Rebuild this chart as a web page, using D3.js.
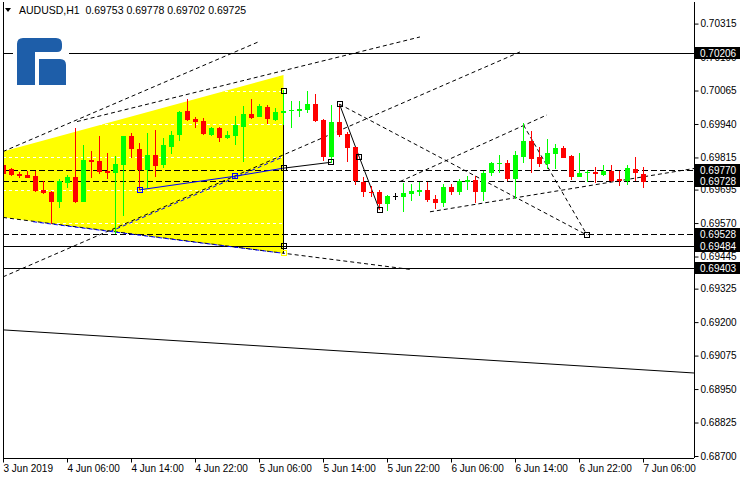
<!DOCTYPE html>
<html><head><meta charset="utf-8">
<script src="https://cdn.jsdelivr.net/npm/d3@7"></script>
<style>
body{margin:0;background:#fff;}
svg{display:block;font-family:"Liberation Sans",Arial,sans-serif;}
</style>
</head><body>
<svg id="chart" width="740" height="480"></svg>
<script>
// ---------------- DATA ----------------
const symbol = "AUDUSD,H1";
const lastOHLC = [0.69753, 0.69778, 0.69702, 0.69725];
const open  = [0.69787,0.69772,0.69754,0.69750,0.69746,0.69694,0.69686,0.69650,0.69721,0.69742,
               0.69650,0.69806,0.69802,0.69764,0.69758,0.69788,0.69895,0.69847,0.69768,0.69824,
               0.69787,0.69855,0.69899,0.69989,0.69959,0.69951,0.69899,0.69926,0.69889,0.69895,
               0.69930,0.69977,0.69967,0.70002,0.69955,0.69980,0.69987,0.69990,0.69992,0.70015,
               0.69955,0.69818,0.69946,0.69902,0.69853,0.69724,0.69687,0.69685,0.69641,0.69671,
               0.69666,0.69679,0.69687,0.69694,0.69660,0.69646,0.69705,0.69687,0.69724,0.69731,
               0.69687,0.69756,0.69790,0.69793,0.69735,0.69818,0.69877,0.69816,0.69791,0.69828,
               0.69851,0.69820,0.69743,0.69756,0.69762,0.69750,0.69764,0.69735,0.69727,0.69771,
               0.69753];
const high  = [0.69817,0.69777,0.69760,0.69764,0.69764,0.69726,0.69690,0.69734,0.69750,0.69924,
               0.69862,0.69839,0.69895,0.69831,0.69820,0.69895,0.69908,0.69868,0.69905,0.69918,
               0.69887,0.69914,0.69989,0.70033,0.69967,0.69961,0.69928,0.69930,0.69914,0.69970,
               0.70008,0.70033,0.70014,0.70011,0.69999,0.70067,0.70026,0.70026,0.70063,0.70052,
               0.69957,0.70011,0.70011,0.69911,0.69853,0.69741,0.69710,0.69692,0.69675,0.69683,
               0.69718,0.69716,0.69724,0.69724,0.69675,0.69716,0.69716,0.69734,0.69746,0.69746,
               0.69764,0.69797,0.69824,0.69806,0.69840,0.69943,0.69914,0.69855,0.69884,0.69864,
               0.69858,0.69824,0.69831,0.69768,0.69781,0.69787,0.69787,0.69764,0.69787,0.69818,
               0.69778];
const low   = [0.69750,0.69746,0.69739,0.69738,0.69686,0.69677,0.69567,0.69627,0.69700,0.69644,
               0.69649,0.69739,0.69754,0.69734,0.69528,0.69596,0.69812,0.69694,0.69700,0.69743,
               0.69775,0.69828,0.69878,0.69951,0.69926,0.69899,0.69895,0.69874,0.69883,0.69862,
               0.69797,0.69959,0.69965,0.69939,0.69951,0.69936,0.69926,0.69967,0.69982,0.69949,
               0.69803,0.69793,0.69893,0.69797,0.69712,0.69668,0.69668,0.69619,0.69616,0.69656,
               0.69612,0.69654,0.69671,0.69650,0.69624,0.69631,0.69675,0.69675,0.69694,0.69646,
               0.69654,0.69747,0.69756,0.69727,0.69659,0.69793,0.69758,0.69781,0.69772,0.69772,
               0.69812,0.69731,0.69741,0.69724,0.69721,0.69746,0.69724,0.69708,0.69712,0.69727,
               0.69702];
const close = [0.69753,0.69750,0.69746,0.69739,0.69690,0.69683,0.69650,0.69726,0.69742,0.69648,
               0.69806,0.69798,0.69762,0.69758,0.69791,0.69895,0.69846,0.69768,0.69824,0.69783,
               0.69862,0.69899,0.69986,0.69955,0.69949,0.69902,0.69926,0.69889,0.69899,0.69936,
               0.69977,0.69964,0.70007,0.69958,0.69984,0.69990,0.69992,0.69996,0.70015,0.69952,
               0.69818,0.69946,0.69899,0.69851,0.69727,0.69685,0.69683,0.69640,0.69671,0.69671,
               0.69681,0.69690,0.69694,0.69656,0.69646,0.69706,0.69687,0.69727,0.69731,0.69687,
               0.69758,0.69796,0.69796,0.69735,0.69824,0.69877,0.69809,0.69791,0.69831,0.69851,
               0.69814,0.69743,0.69758,0.69762,0.69752,0.69764,0.69727,0.69727,0.69777,0.69756,
               0.69725];
const priceTicks = [0.70315,0.70190,0.70065,0.69940,0.69815,0.69695,0.69570,0.69445,0.69325,
                    0.69200,0.69075,0.68950,0.68825,0.68700];
const timeTickBars   = [0,8,16,24,32,40,48,56,64,72,80];
const timeTickLabels = ["3 Jun 2019","4 Jun 06:00","4 Jun 14:00","4 Jun 22:00","5 Jun 06:00",
                        "5 Jun 14:00","5 Jun 22:00","6 Jun 06:00","6 Jun 14:00","6 Jun 22:00","7 Jun 06:00"];
const solidLevels  = [0.70206, 0.69484, 0.69403];
const dashedLevels = [0.69770, 0.69728, 0.69528];
// drawn objects: [barIndex, price] pairs
const yellowTriangle = [[-20.56,0.69670],[35,0.70123],[35,0.69457]];
const dashedBlack = [
  [[-0.06,0.69837],[31.81,0.70246]],
  [[-0.06,0.69369],[64.56,0.70209]],
  [[9.19,0.69949],[52.06,0.70265]],
  [[-0.06,0.69591],[50.81,0.69397]],
  [[42,0.70014],[72.94,0.69525]],
  [[65,0.69936],[72.94,0.69525]],
  [[49.56,0.69725],[67.94,0.69974]],
  [[53.31,0.69612],[86.56,0.69775]]
];
const dashedBlue = [
  [[13.31,0.69538],[35,0.69818]],
  [[3.69,0.69575],[35,0.69457]]
];
const solidBlue = [[17,0.69694],[28.94,0.69745],[35,0.69775]];
const solidBlack = [
  [[35,0.69775],[40.94,0.69797]],
  [[35,0.70063],[35,0.69457]],
  [[42,0.70014],[44.48,0.69816],[47,0.69619]],
  [[-0.06,0.69171],[86.31,0.69010]]
];
const blackSquares = [[35,0.70063],[35,0.69775],[35,0.69484],[40.94,0.69797],[42,0.70014],[44.48,0.69816],[47,0.69619],[72.94,0.69525]];
const blueSquares = [[17,0.69694],[28.94,0.69745]];
const yellowSquares = [[35,0.69457]];

// ---------------- LAYOUT ----------------
const W = 740, H = 480;
const plot = {left:3, right:694, top:2, bottom:458};
const svg = d3.select("#chart");
const bars = d3.range(open.length);
const x = d3.scaleLinear().domain([0, 80]).range([3.5, 643.5]);
const y = d3.scaleLinear().domain([0.687, 0.70315]).range([456, 23.58]);

svg.append("rect").attr("width",W).attr("height",H).attr("fill","#fff");
svg.append("defs").append("clipPath").attr("id","clip")
  .append("rect").attr("x",plot.left).attr("y",plot.top)
  .attr("width",plot.right-plot.left).attr("height",plot.bottom-plot.top);

const g = svg.append("g").attr("clip-path","url(#clip)");
const line = d3.line().x(d=>x(d[0])).y(d=>y(d[1]));

// yellow triangle
g.append("path").attr("d", line(yellowTriangle)+"Z").attr("fill","#ffff00");

// white grid
g.selectAll(".grid").data(priceTicks).join("line")
  .attr("x1",plot.left).attr("x2",plot.right)
  .attr("y1",d=>Math.round(y(d))+0.5).attr("y2",d=>Math.round(y(d))+0.5)
  .attr("stroke","#fff").attr("stroke-dasharray","3,3").attr("shape-rendering","crispEdges");

// level lines
g.selectAll(".sl").data(solidLevels).join("line")
  .attr("x1",plot.left).attr("x2",plot.right)
  .attr("y1",d=>Math.round(y(d))+0.5).attr("y2",d=>Math.round(y(d))+0.5)
  .attr("stroke","#000").attr("shape-rendering","crispEdges");
g.selectAll(".dl").data(dashedLevels).join("line")
  .attr("x1",plot.left).attr("x2",plot.right)
  .attr("y1",d=>Math.round(y(d))+0.5).attr("y2",d=>Math.round(y(d))+0.5)
  .attr("stroke","#000").attr("stroke-dasharray","6,3").attr("shape-rendering","crispEdges");

// logo (white backdrop + stylised R)
const logo = svg.append("g").attr("transform","translate(13,35)");
logo.append("rect").attr("width",56).attr("height",52).attr("fill","#fff");
logo.append("path").attr("fill","#1e5ea9")
  .attr("d","M4,9 Q4,3 10,3 L43,3 Q49,3 49,9 L49,12 Q49,17 44,17 L22,17 L22,50 L4,50 Z");
logo.append("path").attr("fill","#1e5ea9")
  .attr("d","M26,24 L47,24 Q53,24 53,30 L53,50 L26,50 Z");

// object lines
dashedBlack.forEach(seg=>g.append("path").attr("d",line(seg)).attr("fill","none")
  .attr("stroke","#000").attr("stroke-dasharray","4,3"));
dashedBlue.forEach(seg=>g.append("path").attr("d",line(seg)).attr("fill","none")
  .attr("stroke","#0000ff").attr("stroke-dasharray","4,3"));
g.append("path").attr("d",line(solidBlue)).attr("fill","none").attr("stroke","#0000ff");
solidBlack.forEach(seg=>g.append("path").attr("d",line(seg)).attr("fill","none").attr("stroke","#000"));

// candles
const cg = g.append("g").attr("shape-rendering","crispEdges");
const col = i => close[i] > open[i] ? "#00ff00" : (close[i] < open[i] ? "#ff0000" : "#000");
cg.selectAll(".wick").data(bars).join("line")
  .attr("x1",i=>x(i)).attr("x2",i=>x(i))
  .attr("y1",i=>y(high[i])).attr("y2",i=>y(low[i]))
  .attr("stroke",col);
cg.selectAll(".body").data(bars).join("rect")
  .attr("x",i=>x(i)-2.5).attr("width",5)
  .attr("y",i=>y(Math.max(open[i],close[i])))
  .attr("height",i=>Math.max(1,Math.abs(y(open[i])-y(close[i]))))
  .attr("fill",col);

// squares
function squares(data,color){
  g.selectAll(null).data(data).join("rect")
    .attr("x",d=>Math.round(x(d[0]))-2.5).attr("y",d=>Math.round(y(d[1]))-2.5)
    .attr("width",5).attr("height",5).attr("fill","none").attr("stroke",color);
}
squares(blackSquares,"#000");
squares(blueSquares,"#0000ff");
squares(yellowSquares,"#ffff00");

// frame
svg.append("line").attr("x1",plot.left+0.5).attr("x2",plot.left+0.5).attr("y1",plot.top).attr("y2",plot.bottom)
  .attr("stroke","#000");

// right axis
const ya = svg.append("g").attr("transform",`translate(${plot.right+0.5},0)`)
  .call(d3.axisRight(y).tickValues(priceTicks).tickSize(4).tickFormat(d3.format(".5f")));
ya.select(".domain").attr("d",`M0,${plot.top}V${plot.bottom}`);
ya.selectAll("text").attr("x",6).attr("font-size",10).attr("font-family","Liberation Sans, Arial, sans-serif").attr("fill","#000");
ya.selectAll("line").attr("stroke","#000");

// bottom axis
const xa = svg.append("g").attr("transform",`translate(0,${plot.bottom+0.5})`)
  .call(d3.axisBottom(x).tickValues(timeTickBars).tickSize(4).tickFormat((d,i)=>timeTickLabels[i]));
xa.select(".domain").attr("d",`M${plot.left},0H${plot.right}`);
xa.selectAll(".tick line").attr("transform","translate(-0.5,0)");
xa.selectAll("text").attr("text-anchor","start").attr("x",-0.5).attr("y",6)
  .attr("font-size",10).attr("font-family","Liberation Sans, Arial, sans-serif").attr("fill","#000");

// level labels
const lv = svg.append("g");
solidLevels.concat(dashedLevels).forEach(p=>{
  const yy = Math.round(y(p));
  lv.append("rect").attr("x",695).attr("y",yy-6).attr("width",45).attr("height",12).attr("fill","#000");
  lv.append("text").attr("x",700).attr("y",yy+3.5).attr("font-size",10).attr("fill","#fff").text(d3.format(".5f")(p));
});

// header
svg.append("path").attr("d","M5,8 L11,8 L8,12 Z").attr("fill","#000");
svg.append("text").attr("x",19).attr("y",14).attr("font-size",10.5).attr("fill","#000")
  .attr("xml:space","preserve")
  .text(symbol + "  " + lastOHLC.map(d3.format(".5f")).join(" "));
</script>
</body></html>
